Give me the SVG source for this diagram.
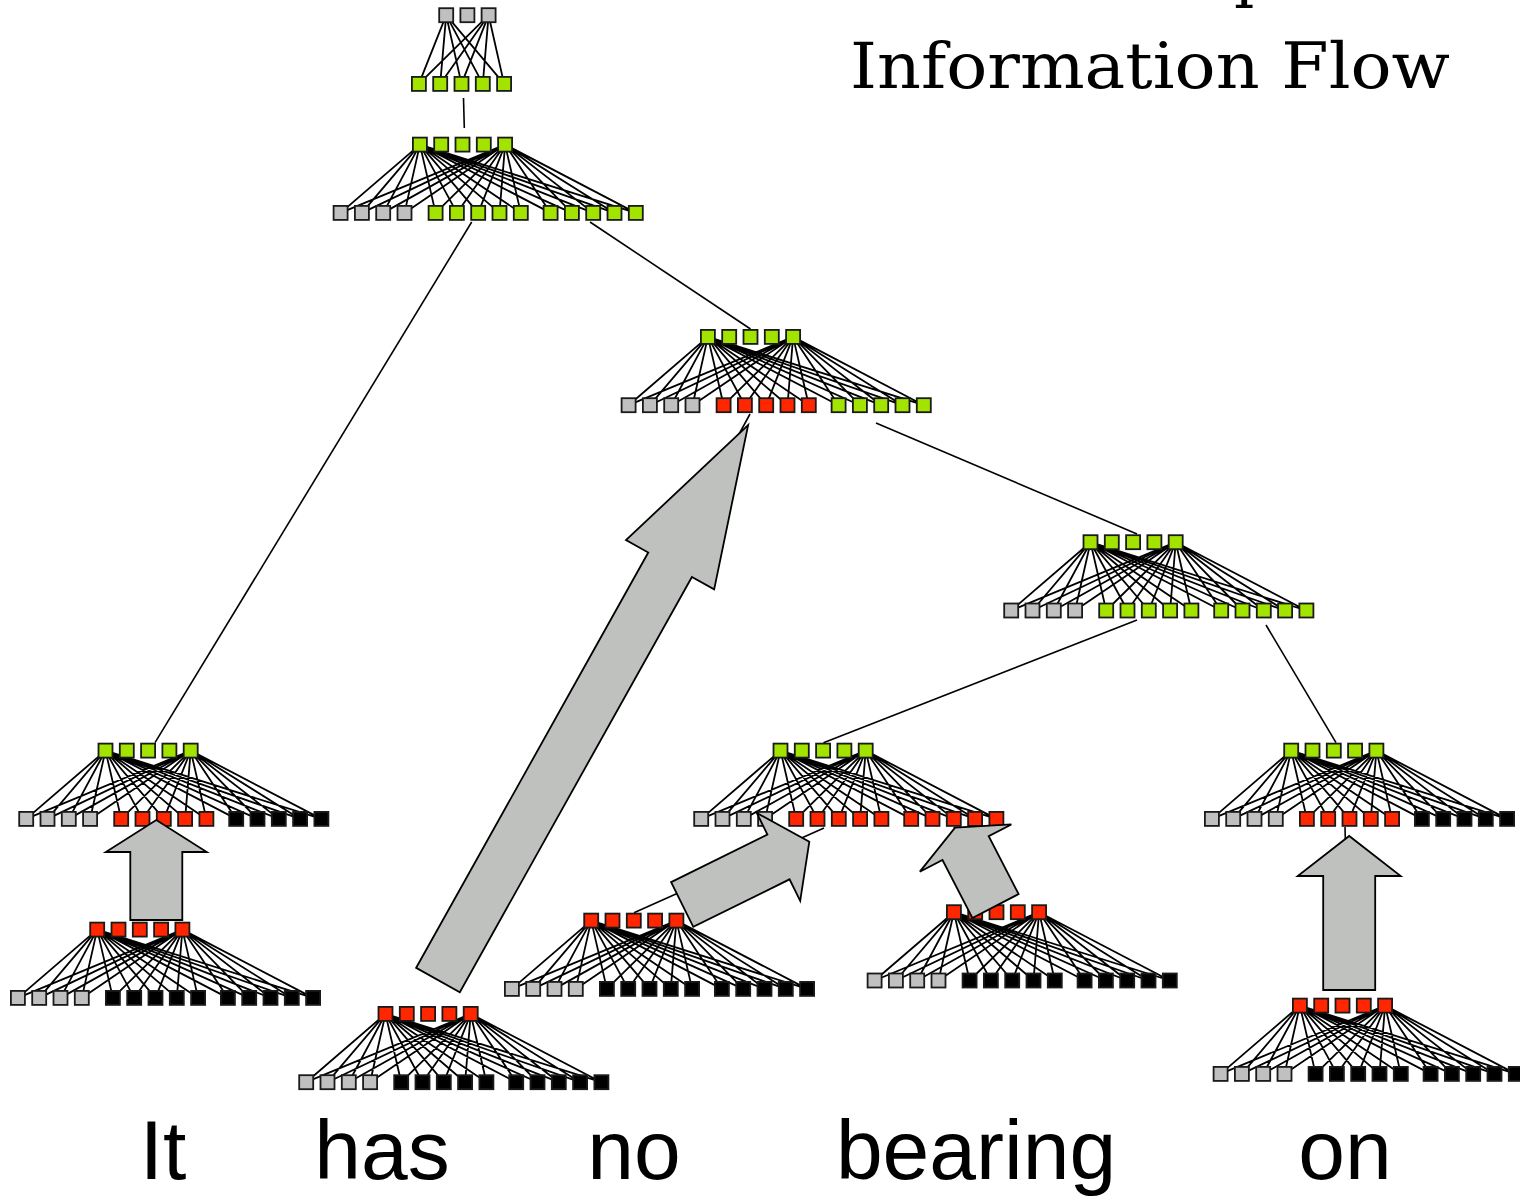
<svg xmlns="http://www.w3.org/2000/svg" xmlns:xlink="http://www.w3.org/1999/xlink" width="1520" height="1199" viewBox="0 0 1520 1199">
<style>
.sq rect{stroke:#1a1a1a;stroke-width:1.8}
.g{fill:#c0c0c0}
.gr{fill:#a2e400}
.r{fill:#ff2600}
.k{fill:#000}
.fan{fill:none;stroke:#000;stroke-width:1.8}
.edge{fill:none;stroke:#000;stroke-width:1.6}
.arrow{fill:#bfc1bf;stroke:#000;stroke-width:1.8;stroke-linejoin:miter}
.word{font-family:"Liberation Sans",Arial,sans-serif;font-size:84px;fill:#000;text-anchor:middle}
.title{font-family:"DejaVu Serif","Liberation Serif",serif;font-size:64px;fill:#000}
</style>
<defs>
<g id="row5" class="sq"><rect x="0.9" y="0.9" width="14" height="14"/><rect x="22.2" y="0.9" width="14" height="14"/><rect x="43.5" y="0.9" width="14" height="14"/><rect x="64.8" y="0.9" width="14" height="14"/><rect x="86.1" y="0.9" width="14" height="14"/></g>
<g id="row4" class="sq"><rect x="0.9" y="0.9" width="14" height="14"/><rect x="22.2" y="0.9" width="14" height="14"/><rect x="43.5" y="0.9" width="14" height="14"/><rect x="64.8" y="0.9" width="14" height="14"/></g>
<path id="fan" class="fan" d="M87.2 7.9L7.9 76.2M87.2 7.9L29.2 76.2M87.2 7.9L50.5 76.2M87.2 7.9L71.8 76.2M87.2 7.9L102.9 76.2M87.2 7.9L124.2 76.2M87.2 7.9L145.5 76.2M87.2 7.9L166.8 76.2M87.2 7.9L188.1 76.2M87.2 7.9L217.9 76.2M87.2 7.9L239.2 76.2M87.2 7.9L260.5 76.2M87.2 7.9L281.8 76.2M87.2 7.9L303.1 76.2M172.4 7.9L7.9 76.2M172.4 7.9L29.2 76.2M172.4 7.9L50.5 76.2M172.4 7.9L71.8 76.2M172.4 7.9L102.9 76.2M172.4 7.9L124.2 76.2M172.4 7.9L145.5 76.2M172.4 7.9L166.8 76.2M172.4 7.9L188.1 76.2M172.4 7.9L217.9 76.2M172.4 7.9L239.2 76.2M172.4 7.9L260.5 76.2M172.4 7.9L281.8 76.2M172.4 7.9L303.1 76.2"/>
</defs>

<g id="connectors">
<path class="edge" d="M463.5 98L464.3 128"/>
<path class="edge" d="M471.7 222L155 742.7"/>
<path class="edge" d="M590 222L750.5 329"/>
<path class="edge" d="M876 423L1137 534"/>
<path class="edge" d="M1137 620L823.5 742.7"/>
<path class="edge" d="M1266 625L1336 742.7"/>
<path class="edge" d="M164 827L150 900"/>
<path class="edge" d="M750 414L445 975"/>
<path class="edge" d="M824 828L634 912.7"/>
<path class="edge" d="M954 827L990 895"/>
<path class="edge" d="M1345 827L1349 990"/>
</g>

<g id="node-root">
<path class="fan" d="M446.2 15.2L418.9 83.9M446.2 15.2L440.2 83.9M446.2 15.2L461.5 83.9M446.2 15.2L482.8 83.9M446.2 15.2L504.1 83.9M488.6 15.2L418.9 83.9M488.6 15.2L440.2 83.9M488.6 15.2L461.5 83.9M488.6 15.2L482.8 83.9M488.6 15.2L504.1 83.9"/>
<g class="sq g"><rect x="439.2" y="8.2" width="14" height="14"/><rect x="460.4" y="8.2" width="14" height="14"/><rect x="481.6" y="8.2" width="14" height="14"/></g>
<use xlink:href="#row5" x="411" y="76" class="gr"/>
</g>

<g id="node-s" transform="translate(332.7,136.7)">
<use xlink:href="#fan"/>
<use xlink:href="#row5" x="79.3" class="gr"/>
<use xlink:href="#row4" y="68.3" class="g"/>
<use xlink:href="#row5" x="95" y="68.3" class="gr"/>
<use xlink:href="#row5" x="210" y="68.3" class="gr"/>
</g>

<g id="node-vp" transform="translate(620.7,329)">
<use xlink:href="#fan"/>
<use xlink:href="#row5" x="79.3" class="gr"/>
<use xlink:href="#row4" y="68.3" class="g"/>
<use xlink:href="#row5" x="95" y="68.3" class="r"/>
<use xlink:href="#row5" x="210" y="68.3" class="gr"/>
</g>

<g id="node-np" transform="translate(1003.3,534.3)">
<use xlink:href="#fan"/>
<use xlink:href="#row5" x="79.3" class="gr"/>
<use xlink:href="#row4" y="68.3" class="g"/>
<use xlink:href="#row5" x="95" y="68.3" class="gr"/>
<use xlink:href="#row5" x="210" y="68.3" class="gr"/>
</g>

<g id="node-it-phrase" transform="translate(18.3,742.7)">
<use xlink:href="#fan"/>
<use xlink:href="#row5" x="79.3" class="gr"/>
<use xlink:href="#row4" y="68.3" class="g"/>
<use xlink:href="#row5" x="95" y="68.3" class="r"/>
<use xlink:href="#row5" x="210" y="68.3" class="k"/>
</g>

<g id="node-no-bearing" transform="translate(693.3,742.7)">
<use xlink:href="#fan"/>
<use xlink:href="#row5" x="79.3" class="gr"/>
<use xlink:href="#row4" y="68.3" class="g"/>
<use xlink:href="#row5" x="95" y="68.3" class="r"/>
<use xlink:href="#row5" x="210" y="68.3" class="r"/>
</g>

<g id="node-on-phrase" transform="translate(1204,742.7)">
<use xlink:href="#fan"/>
<use xlink:href="#row5" x="79.3" class="gr"/>
<use xlink:href="#row4" y="68.3" class="g"/>
<use xlink:href="#row5" x="95" y="68.3" class="r"/>
<use xlink:href="#row5" x="210" y="68.3" class="k"/>
</g>

<g id="leaf-it" transform="translate(10,921.7)">
<use xlink:href="#fan"/>
<use xlink:href="#row5" x="79.3" class="r"/>
<use xlink:href="#row4" y="68.3" class="g"/>
<use xlink:href="#row5" x="95" y="68.3" class="k"/>
<use xlink:href="#row5" x="210" y="68.3" class="k"/>
</g>

<g id="leaf-has" transform="translate(298.3,1006)">
<use xlink:href="#fan"/>
<use xlink:href="#row5" x="79.3" class="r"/>
<use xlink:href="#row4" y="68.3" class="g"/>
<use xlink:href="#row5" x="95" y="68.3" class="k"/>
<use xlink:href="#row5" x="210" y="68.3" class="k"/>
</g>

<g id="leaf-no" transform="translate(504,912.7)">
<use xlink:href="#fan"/>
<use xlink:href="#row5" x="79.3" class="r"/>
<use xlink:href="#row4" y="68.3" class="g"/>
<use xlink:href="#row5" x="95" y="68.3" class="k"/>
<use xlink:href="#row5" x="210" y="68.3" class="k"/>
</g>

<g id="leaf-bearing" transform="translate(866.7,904.3)">
<use xlink:href="#fan"/>
<use xlink:href="#row5" x="79.3" class="r"/>
<use xlink:href="#row4" y="68.3" class="g"/>
<use xlink:href="#row5" x="95" y="68.3" class="k"/>
<use xlink:href="#row5" x="210" y="68.3" class="k"/>
</g>

<g id="leaf-on" transform="translate(1212.7,997.7)">
<use xlink:href="#fan"/>
<use xlink:href="#row5" x="79.3" class="r"/>
<use xlink:href="#row4" y="68.3" class="g"/>
<use xlink:href="#row5" x="95" y="68.3" class="k"/>
<use xlink:href="#row5" x="210" y="68.3" class="k"/>
</g>

<g id="flow-arrows">
<polygon class="arrow" transform="translate(156.3,920)" points="-26,0 -26,-68 -50.5,-68 0,-100 50.5,-68 26,-68 26,0"/>
<polygon class="arrow" transform="translate(438,980) rotate(29.2)" points="-25,0 -25,-475.7 -50.5,-475.7 0,-635.7 50.5,-475.7 25,-475.7 25,0"/>
<polygon class="arrow" transform="translate(682.2,904.5) rotate(63.7)" points="-25,0 -25,-107.4 -49,-107.4 0,-141.8 49,-107.4 25,-107.4 25,0"/>
<polygon class="arrow" transform="translate(995.5,906) rotate(-27.3)" points="-26,0 -26,-65.2 -51.5,-65.2 0,-88.2 51.5,-65.2 26,-65.2 26,0"/>
<polygon class="arrow" transform="translate(1349.2,990)" points="-26,0 -26,-114 -51.5,-114 0,-154 51.5,-114 26,-114 26,0"/>
</g>

<g id="labels">
<text class="title" x="1234" y="-5">p</text>
<text class="title" x="850" y="88" textLength="600" lengthAdjust="spacingAndGlyphs">Information Flow</text>
<text class="word" x="163" y="1179">It</text>
<text class="word" x="382" y="1179">has</text>
<text class="word" x="634" y="1179">no</text>
<text class="word" x="976" y="1179">bearing</text>
<text class="word" x="1345" y="1179">on</text>
</g>
</svg>
